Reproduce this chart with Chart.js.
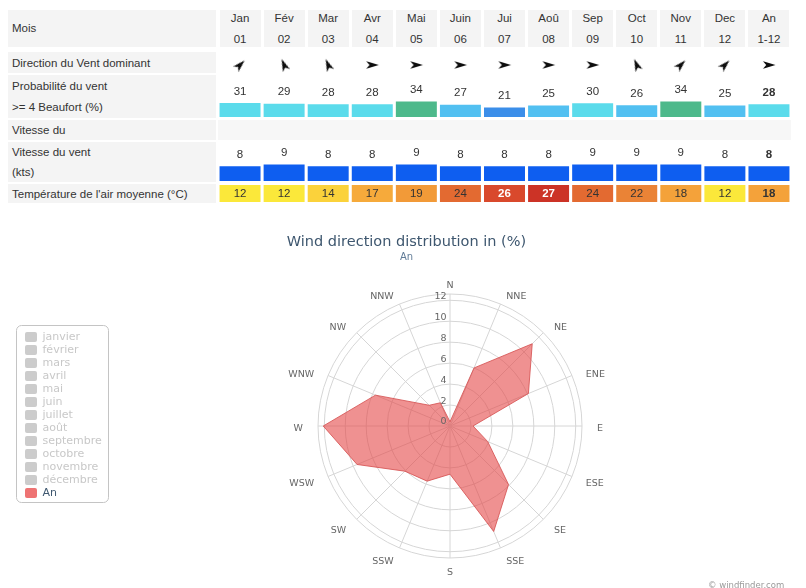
<!DOCTYPE html>
<html lang="fr">
<head>
<meta charset="utf-8">
<title>Statistiques du vent</title>
<script src="https://cdn.jsdelivr.net/npm/chart.js@4.4.1/dist/chart.umd.min.js"></script>
<style>
  html, body { margin: 0; padding: 0; background: #fff; }
  body { position: relative; width: 806px; height: 588px; overflow: hidden;
         font-family: "Liberation Sans", Arial, sans-serif; color: #333; }
  .cell { position: absolute; background: #f4f4f4; box-sizing: border-box; }
  .rowlabel { display: flex; flex-direction: column; justify-content: center;
              padding-left: 4px; font-size: 11.5px; white-space: nowrap; }
  .colhead { display: flex; flex-direction: column; justify-content: center;
             align-items: center; font-size: 11.5px; white-space: nowrap; }
  .band { background: #f7f7f7; }
  canvas { position: absolute; }
  #credit { position: absolute; left: 708px; top: 580px; white-space: nowrap;
            font: 8.5px "DejaVu Sans", sans-serif; color: #9a9a9a; }
</style>
</head>
<body>
<div id="table"></div>
<canvas id="directionRow" width="573" height="22" style="left:218px;top:54px"></canvas>
<canvas id="probabilityRow" width="573" height="41" style="left:218px;top:76px"></canvas>
<canvas id="speedRow" width="573" height="41" style="left:218px;top:140px"></canvas>
<canvas id="temperatureRow" width="573" height="17" style="left:218px;top:185px"></canvas>
<canvas id="rose" width="806" height="373" style="left:0;top:215px"></canvas>
<div id="credit">© windfinder.com</div>

<script>
// ---- monthly statistics ----
const monthShort = ['Jan', 'Fév', 'Mar', 'Avr', 'Mai', 'Juin', 'Jui', 'Aoû', 'Sep', 'Oct', 'Nov', 'Dec', 'An'];
const monthNumber = ['01', '02', '03', '04', '05', '06', '07', '08', '09', '10', '11', '12', '1-12'];
const dominantFrom = ['SW', 'SSE', 'SSE', 'W', 'W', 'W', 'W', 'W', 'W', 'SSE', 'SW', 'SW', 'W'];
const windProbability = [31, 29, 28, 28, 34, 27, 21, 25, 30, 26, 34, 25, 28];
const windSpeed = [8, 9, 8, 8, 9, 8, 8, 8, 9, 9, 9, 8, 8];
const airTemperature = [12, 12, 14, 17, 19, 24, 26, 27, 24, 22, 18, 12, 18];

const rowTitles = [
  ['Mois'],
  ['Direction du Vent dominant'],
  ['Probabilité du vent', '>= 4 Beaufort (%)'],
  ['Vitesse du'],
  ['Vitesse du vent', '(kts)'],
  ["Température de l'air moyenne (°C)"]
];

// ---- wind rose ----
const compassPoints = ['N', 'NNE', 'NE', 'ENE', 'E', 'ESE', 'SE', 'SSE', 'S', 'SSW', 'SW', 'WSW', 'W', 'WNW', 'NW', 'NNW'];
const annualDistribution = [0.4, 6.0, 11.1, 8.1, 2.2, 3.9, 7.9, 10.9, 4.6, 5.7, 6.1, 9.6, 12.1, 7.7, 2.8, 2.4];
const legendMonths = ['janvier', 'février', 'mars', 'avril', 'mai', 'juin', 'juillet', 'août',
                      'septembre', 'octobre', 'novembre', 'décembre'];
const annualLabel = 'An';
const ringValues = [0, 2, 4, 6, 8, 10, 12];
const roseTitle = 'Wind direction distribution in (%)';

// ---------------------------------------------------------------------------
const TABLE_LEFT = 218, TABLE_WIDTH = 573;
const colWidth = TABLE_WIDTH / monthShort.length;
const FONT = '"Liberation Sans", Arial, sans-serif';

// row bands of the table (layout only)
const rowBands = [
  { top: 10, height: 37, line: 21 },
  { top: 52, height: 21, line: 14 },
  { top: 75, height: 43, line: 21 },
  { top: 120, height: 20, line: 14 },
  { top: 142, height: 40, line: 20 },
  { top: 184, height: 19, line: 14 }
];

const table = document.getElementById('table');
function addCell(cls, left, top, width, height, lines, lineHeight) {
  const d = document.createElement('div');
  d.className = 'cell ' + cls;
  Object.assign(d.style, {
    left: left + 'px', top: top + 'px', width: width + 'px', height: height + 'px',
    lineHeight: lineHeight + 'px'
  });
  lines.forEach(t => {
    const s = document.createElement('span');
    s.textContent = t;
    d.appendChild(s);
  });
  table.appendChild(d);
}

rowTitles.forEach((lines, i) => {
  const b = rowBands[i];
  addCell('rowlabel', 8, b.top, 208, b.height, lines, b.line);
});
// light band across the "Vitesse du" row
addCell('band', TABLE_LEFT, rowBands[3].top, TABLE_WIDTH, rowBands[3].height, [], 14);
// column headers
monthShort.forEach((m, i) => {
  addCell('colhead', TABLE_LEFT + colWidth * i + 1.5, rowBands[0].top, colWidth - 3,
          rowBands[0].height, [m, monthNumber[i]], 21);
});

// ---- colour scales ----
function probabilityColor(v) {
  if (v >= 34) return '#4db98b';
  if (v >= 28) return '#5bdbeb';
  if (v >= 23) return '#52c0f1';
  return '#3b8ee9';
}
function temperatureColor(t) {
  if (t <= 12) return '#fbe83a';
  if (t <= 14) return '#fbd23b';
  if (t <= 17) return '#f6aa3b';
  if (t <= 18) return '#f4a23a';
  if (t <= 19) return '#f29a38';
  if (t <= 22) return '#ea8336';
  if (t <= 24) return '#e36a31';
  if (t <= 26) return '#d9492c';
  return '#cc3326';
}

// ---- shared options for the table rows ----
function rowOptions(yMin, yMax) {
  return {
    responsive: false,
    animation: false,
    events: [],
    layout: { padding: 0, autoPadding: false },
    plugins: { legend: { display: false }, tooltip: { enabled: false } },
    scales: {
      x: { type: 'category', display: false, offset: true },
      y: { display: false, min: yMin, max: yMax }
    }
  };
}

// number written above (or inside) each bar
function valueLabels(values, opts) {
  return {
    id: 'valueLabels',
    afterDatasetsDraw(chart) {
      const ctx = chart.ctx;
      const meta = chart.getDatasetMeta(0);
      ctx.save();
      ctx.textAlign = 'center';
      ctx.textBaseline = 'middle';
      meta.data.forEach((bar, i) => {
        const last = i === meta.data.length - 1;
        const bold = last || (opts.boldIf && opts.boldIf(values[i]));
        ctx.font = (bold ? 'bold ' : '') + '11.5px ' + FONT;
        ctx.fillStyle = opts.color ? opts.color(values[i]) : '#333';
        const y = opts.inside ? (bar.y + bar.base) / 2 + 0.5 : bar.y - 11.5;
        ctx.fillText(String(values[i]), bar.x, y);
      });
      ctx.restore();
    }
  };
}

// ---- dominant direction arrows (dart shape, drawn pointing up) ----
function makeArrow() {
  const c = document.createElement('canvas');
  c.width = 16; c.height = 16;
  const g = c.getContext('2d');
  g.fillStyle = '#0d0d0d';
  g.beginPath();
  g.moveTo(8, 1.5);
  g.lineTo(11.8, 14);
  g.lineTo(8, 10.8);
  g.lineTo(4.2, 14);
  g.closePath();
  g.fill();
  return c;
}
const arrow = makeArrow();
const step = 360 / compassPoints.length;

new Chart(document.getElementById('directionRow'), {
  type: 'line',
  data: {
    labels: monthShort,
    datasets: [{
      data: dominantFrom.map(() => 0),
      showLine: false,
      pointStyle: arrow,
      pointRadius: 8,
      // arrows point downwind
      pointRotation: dominantFrom.map(d => (compassPoints.indexOf(d) * step + 180) % 360)
    }]
  },
  options: rowOptions(-1, 1)
});

new Chart(document.getElementById('probabilityRow'), {
  type: 'bar',
  data: {
    labels: monthShort,
    datasets: [{
      data: windProbability,
      backgroundColor: windProbability.map(probabilityColor),
      borderWidth: 0,
      barPercentage: 0.93,
      categoryPercentage: 1
    }]
  },
  options: rowOptions(0, 90),
  plugins: [valueLabels(windProbability, {})]
});

new Chart(document.getElementById('speedRow'), {
  type: 'bar',
  data: {
    labels: monthShort,
    datasets: [{
      data: windSpeed,
      backgroundColor: '#0e5ef0',
      borderWidth: 0,
      barPercentage: 0.93,
      categoryPercentage: 1
    }]
  },
  options: rowOptions(0, 22.2),
  plugins: [valueLabels(windSpeed, {})]
});

new Chart(document.getElementById('temperatureRow'), {
  type: 'bar',
  data: {
    labels: monthShort,
    datasets: [{
      data: airTemperature.map((t, i) => ({ x: monthShort[i], y: [0, 1], temp: t })),
      backgroundColor: ctx => temperatureColor(ctx.raw.temp),
      borderWidth: 0,
      barPercentage: 0.93,
      categoryPercentage: 1
    }]
  },
  options: rowOptions(0, 1),
  plugins: [valueLabels(airTemperature, {
    inside: true,
    boldIf: t => t >= 26,
    color: t => (t >= 26 ? '#ffffff' : '#333333')
  })]
});

// ---- wind rose ----
const ROSE_FONT = '"DejaVu Sans", sans-serif';
const seriesFill = 'rgba(229, 72, 72, 0.6)';
const seriesLine = 'rgba(214, 84, 84, 0.85)';
const seriesSwatch = '#ee7373';

const roseDatasets = legendMonths.map(m => ({ label: m, data: [], hidden: true }));
roseDatasets.push({
  label: annualLabel,
  data: annualDistribution,
  backgroundColor: seriesFill,
  borderColor: seriesLine,
  borderWidth: 1,
  fill: true,
  pointRadius: 0,
  pointHoverRadius: 0,
  tension: 0
});

const ringLabels = {
  id: 'ringLabels',
  afterDatasetsDraw(chart) {
    const s = chart.scales.r, ctx = chart.ctx;
    ctx.save();
    ctx.font = '9.5px ' + ROSE_FONT;
    ctx.fillStyle = '#666';
    ctx.textAlign = 'right';
    ctx.textBaseline = 'middle';
    ringValues.forEach(v => {
      const d = s.getDistanceFromCenterForValue(v);
      ctx.fillText(String(v), s.xCenter - 3.5, s.yCenter - d - 4);
    });
    ctx.restore();
  }
};

const compassLabels = {
  id: 'compassLabels',
  afterDraw(chart) {
    const s = chart.scales.r, ctx = chart.ctx;
    ctx.save();
    ctx.font = '9.5px ' + ROSE_FONT;
    ctx.fillStyle = '#666';
    ctx.textBaseline = 'middle';
    compassPoints.forEach((name, i) => {
      const deg = i * step;
      const p = s.getPointPosition(i, s.drawingArea + 15);
      ctx.textAlign = (deg === 0 || deg === 180) ? 'center' : (deg < 180 ? 'left' : 'right');
      ctx.fillText(name, p.x, p.y + 3 + 3.5 * Math.cos(deg * Math.PI / 180));
    });
    ctx.restore();
  }
};

const legendFrame = {
  id: 'legendFrame',
  afterDraw(chart) {
    const boxes = chart.legend && chart.legend.legendHitBoxes;
    if (!boxes || !boxes.length) return;
    const l = Math.round(Math.min(...boxes.map(b => b.left)) - 9) + 0.5;
    const t = Math.round(Math.min(...boxes.map(b => b.top)) - 6.5) + 0.5;
    const r = Math.round(Math.max(...boxes.map(b => b.left + b.width)) + 6) + 0.5;
    const b = Math.round(Math.max(...boxes.map(bx => bx.top + bx.height)) + 3.5) + 0.5;
    const rad = 5, ctx = chart.ctx;
    ctx.save();
    ctx.strokeStyle = '#c4c4c4';
    ctx.lineWidth = 1;
    ctx.beginPath();
    ctx.moveTo(l + rad, t);
    ctx.lineTo(r - rad, t);
    ctx.arcTo(r, t, r, t + rad, rad);
    ctx.lineTo(r, b - rad);
    ctx.arcTo(r, b, r - rad, b, rad);
    ctx.lineTo(l + rad, b);
    ctx.arcTo(l, b, l, b - rad, rad);
    ctx.lineTo(l, t + rad);
    ctx.arcTo(l, t, l + rad, t, rad);
    ctx.closePath();
    ctx.stroke();
    ctx.restore();
  }
};

new Chart(document.getElementById('rose'), {
  type: 'radar',
  data: { labels: compassPoints, datasets: roseDatasets },
  options: {
    responsive: false,
    animation: false,
    events: [],
    layout: { padding: { left: 23, right: 16, top: 0, bottom: 30 } },
    plugins: {
      tooltip: { enabled: false },
      title: {
        display: true,
        text: roseTitle,
        color: '#3e576f',
        font: { family: ROSE_FONT, size: 14.5, weight: 'normal' },
        padding: { top: 19, bottom: 0 }
      },
      subtitle: {
        display: true,
        text: annualLabel,
        color: '#5f7a96',
        font: { family: ROSE_FONT, size: 10, weight: 'normal' },
        padding: { top: 0, bottom: 30.6 }
      },
      legend: {
        position: 'left',
        align: 'start',
        title: { display: true, text: '', font: { size: 11 }, padding: { top: 101.3, bottom: 0 } },
        labels: {
          boxWidth: 12,
          boxHeight: 10,
          padding: 2,
          useBorderRadius: true,
          borderRadius: 2,
          font: { family: ROSE_FONT, size: 11 },
          generateLabels(chart) {
            return chart.data.datasets.map((ds, i) => {
              const on = chart.isDatasetVisible(i);
              return {
                text: ds.label,
                datasetIndex: i,
                hidden: false,
                fillStyle: on ? seriesSwatch : '#cccccc',
                strokeStyle: on ? seriesSwatch : '#cccccc',
                lineWidth: 0,
                borderRadius: 2,
                fontColor: on ? '#3e576f' : '#c8c8c8'
              };
            });
          }
        }
      }
    },
    scales: {
      r: {
        min: 0,
        max: 12.6,
        startAngle: 0,
        afterBuildTicks(scale) {
          scale.ticks = ringValues.concat([scale.max]).map(v => ({ value: v }));
        },
        ticks: { display: false },
        grid: { circular: true, color: '#d6d6d6', lineWidth: 1 },
        angleLines: { display: true, color: '#d6d6d6', lineWidth: 1 },
        pointLabels: { display: false }
      }
    }
  },
  plugins: [ringLabels, compassLabels, legendFrame]
});
</script>
</body>
</html>
